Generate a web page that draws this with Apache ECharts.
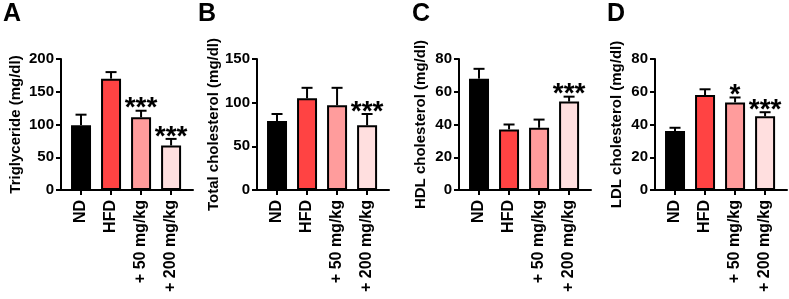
<!DOCTYPE html>
<html>
<head>
<meta charset="utf-8">
<title>Lipid profile</title>
<script src="https://cdn.jsdelivr.net/npm/echarts@6/dist/echarts.min.js"></script>
<style>
html,body{margin:0;padding:0;background:#fff;}
#main{width:789px;height:299px;}
</style>
</head>
<body>
<div id="main"></div>
<script>
// groups on the x axis
var groups = ['ND', 'HFD', '+ 50 mg/kg', '+ 200 mg/kg'];
var barColors = ['#000000', '#FF4343', '#FF9C9C', '#FFDFDF'];

// A - triglyceride
var tgMean = [99, 170, 111, 68];
var tgErr = [16, 10, 10, 10];
var tgStars = ['', '', '***', '***'];
// B - total cholesterol
var tcMean = [79, 105, 97, 74];
var tcErr = [8, 12, 20, 13];
var tcStars = ['', '', '', '***'];
// C - HDL
var hdlMean = [68, 37, 38, 54];
var hdlErr = [6, 3, 5, 3];
var hdlStars = ['', '', '', '***'];
// D - LDL
var ldlMean = [36, 58, 53.5, 45];
var ldlErr = [2, 3.5, 3, 2.5];
var ldlStars = ['', '', '*', '***'];

var panels = [
	{letter:'A', title:'Triglyceride (mg/dl)', mean:tgMean, err:tgErr, stars:tgStars, max:200, step:50, left:61, gap:38},
	{letter:'B', title:'Total cholesterol (mg/dl)', mean:tcMean, err:tcErr, stars:tcStars, max:150, step:50, left:257, gap:36},
	{letter:'C', title:'HDL cholesterol (mg/dl)', mean:hdlMean, err:hdlErr, stars:hdlStars, max:80, step:20, left:459, gap:31},
	{letter:'D', title:'LDL cholesterol (mg/dl)', mean:ldlMean, err:ldlErr, stars:ldlStars, max:80, step:20, left:655, gap:31}
];
var letterX = [3, 198, 412, 607];

var font = 'Liberation Sans, Arial, sans-serif';
var grid = [], xAxis = [], yAxis = [], series = [], graphic = [];

for (var p = 0; p < panels.length; p++) {
	var pn = panels[p];
	grid.push({left: pn.left, top: 59, width: 132, height: 131});
	xAxis.push({
		type: 'value', gridIndex: p, min: -0.667, max: 3.73,
		splitLine: {show: false},
		axisLine: {show: true, onZero: false, lineStyle: {color: '#000', width: 2}},
		axisTick: {show: true, length: 5, lineStyle: {color: '#000', width: 2}, customValues: [0, 1, 2, 3]},
		axisLabel: {
			customValues: [0, 1, 2, 3], rotate: 90, margin: 10,
			color: '#000', fontWeight: 'bold', fontSize: 16, fontFamily: font,
			formatter: function (v) { return groups[Math.round(v)]; }
		}
	});
	yAxis.push({
		type: 'value', gridIndex: p, min: 0, max: pn.max, interval: pn.step,
		name: pn.title, nameLocation: 'middle', nameGap: pn.gap, nameRotate: 90,
		nameTextStyle: {color: '#000', fontWeight: 'bold', fontSize: 15, fontFamily: font},
		splitLine: {show: false},
		axisLine: {show: true, onZero: false, lineStyle: {color: '#000', width: 2}},
		axisTick: {show: true, length: 5, lineStyle: {color: '#000', width: 2}},
		axisLabel: {color: '#000', fontWeight: 'bold', fontSize: 15, fontFamily: font, margin: 7}
	});

	var barData = [];
	var errData = [];
	for (var i = 0; i < groups.length; i++) {
		barData.push({value: [i, pn.mean[i]], itemStyle: {color: barColors[i]}});
		errData.push([i, pn.mean[i], pn.mean[i] + pn.err[i]]);
	}
	series.push({
		type: 'bar', xAxisIndex: p, yAxisIndex: p, barWidth: 20,
		itemStyle: {borderColor: '#000', borderWidth: 2},
		data: barData, silent: true
	});
	(function (stars) {
		series.push({
			type: 'custom', xAxisIndex: p, yAxisIndex: p, silent: true, z: 3,
			encode: {x: 0, y: [1, 2]},
			data: errData,
			renderItem: function (params, api) {
				var lo = api.coord([api.value(0), api.value(1)]);
				var hi = api.coord([api.value(0), api.value(2)]);
				var st = stars[params.dataIndex];
				var kids = [
					{type: 'line', shape: {x1: lo[0], y1: lo[1], x2: hi[0], y2: hi[1]}, style: {stroke: '#000', lineWidth: 2}},
					{type: 'line', shape: {x1: hi[0] - 5.5, y1: hi[1], x2: hi[0] + 5.5, y2: hi[1]}, style: {stroke: '#000', lineWidth: 2}}
				];
				if (st) {
					kids.push({type: 'text', x: hi[0], y: hi[1] - 2, style: {
						text: st, fill: '#000', font: 'bold 28px ' + font,
						textAlign: 'center', textVerticalAlign: 'middle'
					}});
				}
				return {type: 'group', children: kids};
			}
		});
	})(pn.stars);

	graphic.push({
		type: 'text', left: letterX[p], top: 2,
		style: {text: pn.letter, fill: '#000', font: 'bold 25px ' + font}
	});
}

var myChart = echarts.init(document.getElementById('main'), null, {renderer: 'canvas'});
myChart.setOption({
	animation: false,
	grid: grid,
	xAxis: xAxis,
	yAxis: yAxis,
	series: series,
	graphic: graphic
});
</script>
</body>
</html>
